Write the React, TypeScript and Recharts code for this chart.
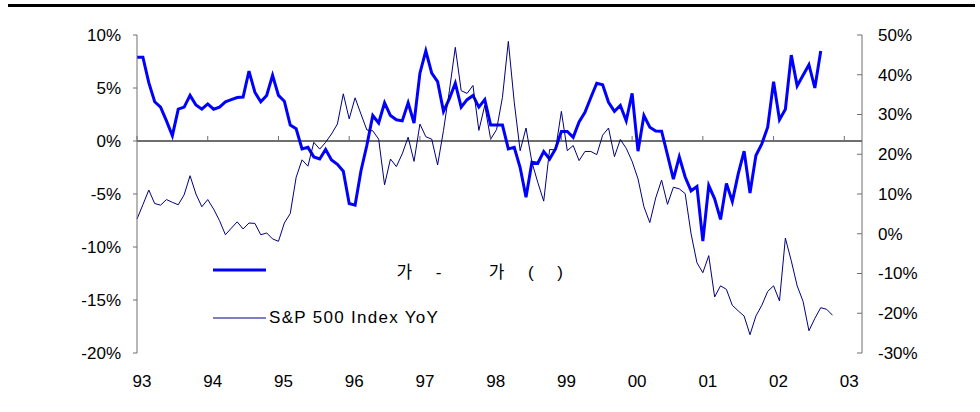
import { ComposedChart, Line, XAxis, YAxis, ReferenceLine, Legend } from 'recharts';

// x axis: one point per month from Jan 1993, labels on every January
const yearLabels = ['93', '94', '95', '96', '97', '98', '99', '00', '01', '02', '03'];
const yearTicks = [0, 12, 24, 36, 48, 60, 72, 84, 96, 108, 120];
const leftTicks = [-20, -15, -10, -5, 0, 5, 10];
const rightTicks = [-30, -20, -10, 0, 10, 20, 30, 40, 50];

// thick blue line, left axis (%)
const debtGrowth = [
  7.9, 7.9, 5.5, 3.7, 3.2, 1.9, 0.5, 3.0, 3.2, 4.3,
  3.4, 3.0, 3.5, 3.0, 3.2, 3.7, 3.9, 4.1, 4.15, 6.6,
  4.6, 3.7, 4.3, 6.2, 4.3, 3.75, 1.5, 1.15, -0.75, -0.6,
  -1.5, -1.7, -0.8, -1.8, -2.2, -2.85, -5.9, -6.05, -2.8, -0.4,
  2.4, 1.7, 3.6, 2.4, 2.0, 1.9, 3.6, 1.7, 6.4, 8.5,
  6.4, 5.6, 2.8, 4.0, 5.45, 3.2, 3.9, 4.3, 3.2, 3.9,
  1.5, 1.5, 1.5, -0.75, -0.6, -2.5, -5.3, -2.0, -2.1, -1.0,
  -1.7, -0.75, 0.9, 0.9, 0.35, 1.8, 2.7, 4.1, 5.45, 5.3,
  3.65, 2.8, 3.35, 1.9, 4.5, -0.96, 2.4, 1.3, 0.95, 0.93,
  -1.3, -3.6, -1.5, -3.4, -4.7, -4.3, -9.45, -4.2, -5.45, -7.4,
  -4.0, -5.7, -3.1, -0.96, -4.9, -1.37, -0.27, 1.3, 5.6, 2.0,
  3.0, 8.1, 5.2, 6.2, 7.2, 5.0, 8.5,
];

// thin navy line, right axis (%)
const spxYoY = [
  3.7, 7.3, 11.0, 7.6, 7.2, 8.6, 7.9, 7.3, 9.8, 14.6,
  10.0, 6.8, 8.6, 6.2, 3.3, -0.25, 1.4, 3.0, 1.2, 2.7,
  2.6, -0.25, 0.2, -1.3, -1.9, 2.7, 5.1, 14.2, 18.6, 17.0,
  23.0, 21.3, 23.0, 25.1, 27.6, 35.2, 28.9, 34.2, 30.1, 26.1,
  25.9, 23.8, 12.3, 18.8, 16.9, 20.1, 24.3, 18.2, 27.6, 24.4,
  23.8, 17.3, 26.0, 36.0, 46.9, 36.0, 35.3, 37.3, 26.0, 32.3,
  23.8, 26.2, 34.3, 48.4, 33.1, 20.9, 26.6, 18.0, 12.9, 8.2,
  21.2, 21.1, 30.8, 20.9, 22.2, 18.4, 20.7, 20.7, 19.9, 24.8,
  26.6, 19.4, 23.7, 21.5, 18.2, 13.8, 6.8, 2.8, 9.0, 13.5,
  7.4, 11.7, 11.3, 10.1, 0.0, -7.3, -9.8, -5.5, -15.9, -13.1,
  -14.0, -18.0, -19.4, -20.7, -25.4, -20.7, -18.0, -14.5, -13.1, -16.9,
  -1.1, -6.8, -13.1, -17.0, -24.4, -21.3, -18.6, -19.0, -20.5,
];

// legend label: most glyphs of the original korean title are missing in the source
const debtName =
  ' '.repeat(27) + '가' + ' '.repeat(5) + '-' + ' '.repeat(10) + '가' + ' '.repeat(5) + '(' + ' '.repeat(5) + ')';
const spxName = 'S&P 500 Index YoY';

const FONT = "'Liberation Sans', Arial, 'Noto Sans CJK KR', sans-serif";
const TOP = 35;
const PLOT_H = 318;
const LEFT_DOMAIN = [-20, 10];
const ZERO_Y = TOP + (PLOT_H * LEFT_DOMAIN[1]) / (LEFT_DOMAIN[1] - LEFT_DOMAIN[0]);
const AXIS = '#6e6e6e';

const data = spxYoY.map((v, i) => ({ m: i, debt: debtGrowth[i], spx: v }));

const XTick = ({ x, y, payload }: any) => {
  const idx = yearTicks.indexOf(payload.value);
  return (
    <g>
      <line x1={x} x2={x} y1={ZERO_Y - 5} y2={ZERO_Y} stroke={AXIS} />
      <text x={x + 5} y={y + 34} textAnchor="middle" fontSize={17} fontFamily={FONT} fill="#000">
        {yearLabels[idx]}
      </text>
    </g>
  );
};

const RightTick = ({ x, y, payload }: any) => (
  <g>
    <line x1={x - 5} x2={x} y1={y} y2={y} stroke={AXIS} />
    <text x={x + 16} y={y} dy="0.35em" textAnchor="start" fontSize={17} fontFamily={FONT} fill="#000">
      {payload.value}%
    </text>
  </g>
);

const renderLegend = (props: any) => {
  const items = props.payload || [];
  return (
    <div style={{ fontFamily: FONT, fontSize: 17, color: '#000' }}>
      {items.map((e: any, i: number) => (
        <div key={i} style={{ display: 'flex', alignItems: 'center', height: 48 }}>
          <svg width={56} height={6} style={{ flex: 'none' }}>
            <line x1={0} x2={53} y1={3} y2={3} stroke={e.color} strokeWidth={i === 0 ? 3 : 1} />
          </svg>
          <span style={{ whiteSpace: 'pre', letterSpacing: i === 0 ? 0 : 1.3 }}>{e.value}</span>
        </div>
      ))}
    </div>
  );
};

export default function App() {
  return (
    <div style={{ position: 'absolute', left: 0, top: 0, width: 980, height: 412, background: '#fff' }}>
      <div style={{ position: 'absolute', left: 8, top: 4, width: 967, height: 3, background: '#000' }} />
      <ComposedChart width={980} height={412} data={data} margin={{ top: TOP, right: 0, bottom: 0, left: 0 }}>
        <XAxis
          dataKey="m"
          type="number"
          domain={[0, 123]}
          ticks={yearTicks}
          axisLine={false}
          tickLine={false}
          tickSize={0}
          tickMargin={0}
          height={412 - TOP - PLOT_H}
          tick={<XTick />}
        />
        <YAxis
          yAxisId="left"
          domain={LEFT_DOMAIN}
          ticks={leftTicks}
          width={137}
          stroke={AXIS}
          tickSize={4}
          tickMargin={12}
          tickFormatter={(v: number) => `${v}%`}
          tick={{ fontSize: 17, fill: '#000', fontFamily: FONT }}
        />
        <YAxis
          yAxisId="right"
          orientation="right"
          domain={[-30, 50]}
          ticks={rightTicks}
          width={118}
          stroke={AXIS}
          tickLine={false}
          tickSize={0}
          tickMargin={0}
          tick={<RightTick />}
        />
        <ReferenceLine yAxisId="left" y={0} stroke={AXIS} strokeWidth={2} />
        <Legend
          content={renderLegend}
          layout="horizontal"
          verticalAlign="middle"
          align="center"
          wrapperStyle={{ position: 'absolute', left: 213, top: 246, width: 500 }}
        />
        <Line
          yAxisId="left"
          type="linear"
          dataKey="debt"
          name={debtName}
          stroke="#0000ff"
          strokeWidth={3}
          dot={false}
          isAnimationActive={false}
        />
        <Line
          yAxisId="right"
          type="linear"
          dataKey="spx"
          name={spxName}
          stroke="#000080"
          strokeWidth={1}
          dot={false}
          isAnimationActive={false}
        />
      </ComposedChart>
    </div>
  );
}
